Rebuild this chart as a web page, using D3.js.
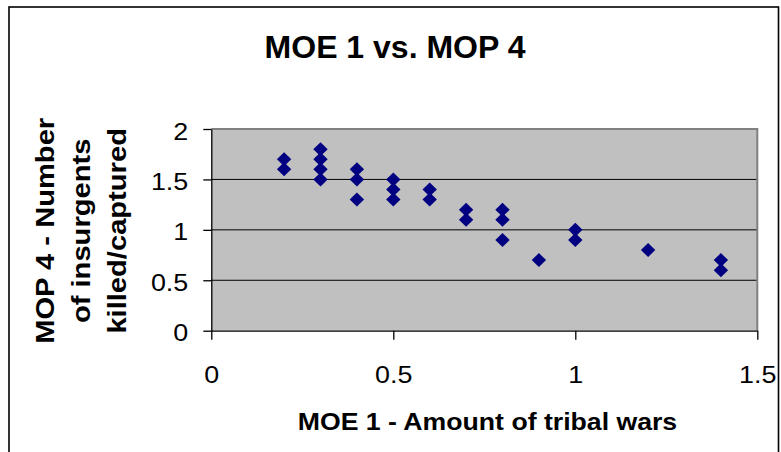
<!DOCTYPE html>
<html>
<head>
<meta charset="utf-8">
<style>
  body {
    margin: 0;
    background: #fff;
  }
  svg text {
    font-family: Arial, 'Liberation Sans', sans-serif;
    fill: #000;
  }
  .plot-bg {
    fill: #c0c0c0;
  }
  .grid line {
    stroke: #000;
    stroke-width: 1px;
  }
  .axis path,
  .axis line {
    stroke: #000;
    stroke-width: 1.3px;
  }
  .axis text {
    font-size: 24px;
  }
  .dots path {
    fill: #000080;
  }
</style>
</head>
<body>
<div id="chart"></div>

<script src="https://d3js.org/d3.v7.min.js"></script>
<script>
// MOE 1 (amount of tribal wars) vs MOP 4 (insurgents killed/captured)
var moe1 = [0.2, 0.2, 0.3, 0.3, 0.3, 0.3, 0.4, 0.4, 0.4, 0.5, 0.5, 0.5,
            0.6, 0.6, 0.7, 0.7, 0.8, 0.8, 0.8, 0.9, 1.0, 1.0, 1.2, 1.4, 1.4];
var mop4 = [1.7, 1.6, 1.8, 1.7, 1.6, 1.5, 1.6, 1.5, 1.3, 1.5, 1.4, 1.3,
            1.4, 1.3, 1.2, 1.1, 1.2, 1.1, 0.9, 0.7, 1.0, 0.9, 0.8, 0.7, 0.6];

var xTicks = [0, 0.5, 1, 1.5];
var yTicks = [0, 0.5, 1, 1.5, 2];

var title = 'MOE 1 vs. MOP 4';
var xTitle = 'MOE 1 - Amount of tribal wars';
var yTitle = ['MOP 4 - Number', 'of insurgents', 'killed/captured'];

var width = 781;
var height = 452;
var plot = {left: 211.3, right: 757.3, top: 129, bottom: 330.7};

var stretch = function (sel, k) {
  sel.each(function () {
    var len = this.getComputedTextLength();
    d3.select(this)
        .attr('textLength', len * k)
        .attr('lengthAdjust', 'spacingAndGlyphs');
  });
};

var x = d3.scaleLinear()
    .domain([0, 1.5])
    .range([plot.left, plot.right]);

var y = d3.scaleLinear()
    .domain([0, 2])
    .range([plot.bottom, plot.top]);

var svg = d3.select('#chart').append('svg')
    .attr('width', width)
    .attr('height', height);

// chart area border (bottom edge runs off the picture)
svg.append('rect')
    .attr('x', 9)
    .attr('y', 7)
    .attr('width', 769.5)
    .attr('height', 470)
    .attr('fill', '#fff')
    .attr('stroke', '#000')
    .attr('stroke-width', 1.6);

svg.append('rect')
    .attr('class', 'plot-bg')
    .attr('x', plot.left)
    .attr('y', plot.top)
    .attr('width', plot.right - plot.left)
    .attr('height', plot.bottom - plot.top);

svg.append('g')
    .attr('class', 'grid')
  .selectAll('line')
    .data(yTicks.filter(function (d) { return d > 0 && d < 2; }))
    .enter().append('line')
    .attr('x1', plot.left)
    .attr('x2', plot.right)
    .attr('y1', function (d) { return y(d); })
    .attr('y2', function (d) { return y(d); });

// gray top and right edges of the plot area
svg.append('path')
    .attr('d', 'M' + plot.left + ',' + plot.top + 'H' + plot.right + 'V' + plot.bottom)
    .attr('fill', 'none')
    .attr('stroke', '#808080')
    .attr('stroke-width', 2);

var xAxis = svg.append('g')
    .attr('class', 'axis')
    .attr('transform', 'translate(0,' + plot.bottom + ')')
    .call(d3.axisBottom(x).tickValues(xTicks).tickSize(9).tickSizeOuter(0).tickFormat(d3.format('')));

xAxis.select('.domain').attr('stroke', '#404040').attr('stroke-width', 2);
xAxis.selectAll('text')
    .attr('y', 52.5)
    .attr('dy', 0)
    .call(stretch, 1.12);

var yAxis = svg.append('g')
    .attr('class', 'axis')
    .attr('transform', 'translate(' + plot.left + ',0)')
    .call(d3.axisLeft(y).tickValues(yTicks).tickSize(8).tickSizeOuter(0).tickFormat(d3.format('')));

yAxis.selectAll('text')
    .attr('x', -23)
    .attr('dy', 10)
    .call(stretch, 1.12);

var diamond = 'M0,-7L7.2,0L0,7L-7.2,0Z';

svg.append('g')
    .attr('class', 'dots')
  .selectAll('path')
    .data(moe1.map(function (d, i) { return [d, mop4[i]]; }))
    .enter().append('path')
    .attr('d', diamond)
    .attr('transform', function (d) {
      return 'translate(' + x(d[0]) + ',' + y(d[1]) + ')';
    });

svg.append('text')
    .attr('x', 395)
    .attr('y', 57.5)
    .attr('text-anchor', 'middle')
    .style('font-size', '32px')
    .style('font-weight', 'bold')
    .text(title);

svg.append('text')
    .attr('x', 487.5)
    .attr('y', 429.5)
    .attr('text-anchor', 'middle')
    .style('font-size', '24px')
    .style('font-weight', 'bold')
    .text(xTitle)
    .call(stretch, 1.11);

var yMid = (plot.top + plot.bottom) / 2 + 1;
svg.append('g')
    .attr('transform', 'translate(0,' + yMid + ') rotate(-90)')
  .selectAll('text')
    .data(yTitle)
    .enter().append('text')
    .attr('x', 0)
    .attr('y', function (d, i) { return 53.5 + i * 36; })
    .attr('text-anchor', 'middle')
    .style('font-size', '26px')
    .style('font-weight', 'bold')
    .text(function (d) { return d; })
    .call(stretch, 1.12);
</script>
</body>
</html>
